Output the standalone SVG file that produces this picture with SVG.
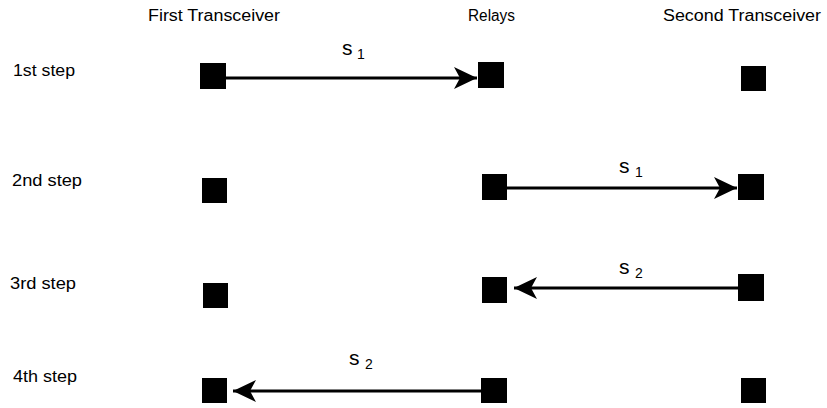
<svg xmlns="http://www.w3.org/2000/svg" width="827" height="408" viewBox="0 0 827 408">
  <style>
    .hdr { font-family: "Liberation Sans", Arial, sans-serif; font-size: 16px; fill: #000; }
    .step { font-family: "Liberation Sans", Arial, sans-serif; font-size: 16px; fill: #000; }
    .sig { font-family: "Liberation Sans", Arial, sans-serif; font-size: 21px; fill: #000; }
    .sub { font-family: "Liberation Sans", Arial, sans-serif; font-size: 14px; fill: #000; }
    .node { fill: #000; }
    .edge { stroke: #000; stroke-width: 3; fill: none; }
  </style>
  <defs>
    <marker id="arrow" markerUnits="userSpaceOnUse" markerWidth="24" markerHeight="22" refX="23" refY="11" orient="auto">
      <path d="M0,0 L23,11 L0,22 L6,11 Z" fill="#000"/>
    </marker>
  </defs>
  <rect width="827" height="408" fill="#fff"/>

  <!-- column headers -->
  <g id="headers">
    <text class="hdr" x="148" y="21" textLength="132" lengthAdjust="spacingAndGlyphs">First Transceiver</text>
    <text class="hdr" x="468" y="21" textLength="47" lengthAdjust="spacingAndGlyphs">Relays</text>
    <text class="hdr" x="663" y="21" textLength="158" lengthAdjust="spacingAndGlyphs">Second Transceiver</text>
  </g>

  <!-- step labels -->
  <g id="steps">
    <text class="step" x="13" y="76" textLength="62" lengthAdjust="spacingAndGlyphs">1st step</text>
    <text class="step" x="12" y="186" textLength="70" lengthAdjust="spacingAndGlyphs">2nd step</text>
    <text class="step" x="10" y="289" textLength="66" lengthAdjust="spacingAndGlyphs">3rd step</text>
    <text class="step" x="13" y="382" textLength="64" lengthAdjust="spacingAndGlyphs">4th step</text>
  </g>

  <!-- step 1 -->
  <g id="step1-first"><rect class="node" x="200" y="63" width="26" height="26"/></g>
  <g id="step1-relay"><rect class="node" x="478" y="62" width="26" height="26"/></g>
  <g id="step1-second"><rect class="node" x="741" y="66" width="25" height="25"/></g>

  <!-- step 2 -->
  <g id="step2-first"><rect class="node" x="202" y="178" width="25" height="25"/></g>
  <g id="step2-relay"><rect class="node" x="482" y="174" width="25" height="26"/></g>
  <g id="step2-second"><rect class="node" x="738" y="174" width="26" height="26"/></g>

  <!-- step 3 -->
  <g id="step3-first"><rect class="node" x="203" y="283" width="25" height="25"/></g>
  <g id="step3-relay"><rect class="node" x="482" y="277" width="25" height="26"/></g>
  <g id="step3-second"><rect class="node" x="738" y="274" width="26" height="27"/></g>

  <!-- step 4 -->
  <g id="step4-first"><rect class="node" x="202" y="378" width="25" height="25"/></g>
  <g id="step4-relay"><rect class="node" x="481" y="378" width="26" height="25"/></g>
  <g id="step4-second"><rect class="node" x="741" y="378" width="25" height="25"/></g>

  <!-- transmissions -->
  <g id="connectors">
    <line class="edge" x1="226" y1="78" x2="477" y2="78" marker-end="url(#arrow)"/>
    <line class="edge" x1="507" y1="188" x2="737" y2="188" marker-end="url(#arrow)"/>
    <line class="edge" x1="738" y1="288" x2="514" y2="288" marker-end="url(#arrow)"/>
    <line class="edge" x1="481" y1="391" x2="233" y2="391" marker-end="url(#arrow)"/>
  </g>

  <!-- signal labels -->
  <g id="labels">
    <text class="sig" x="342" y="55">s</text><text class="sub" x="357" y="59">1</text>
    <text class="sig" x="619" y="173">s</text><text class="sub" x="635" y="177">1</text>
    <text class="sig" x="619" y="274">s</text><text class="sub" x="635" y="278">2</text>
    <text class="sig" x="349" y="365">s</text><text class="sub" x="365" y="369">2</text>
  </g>
</svg>
